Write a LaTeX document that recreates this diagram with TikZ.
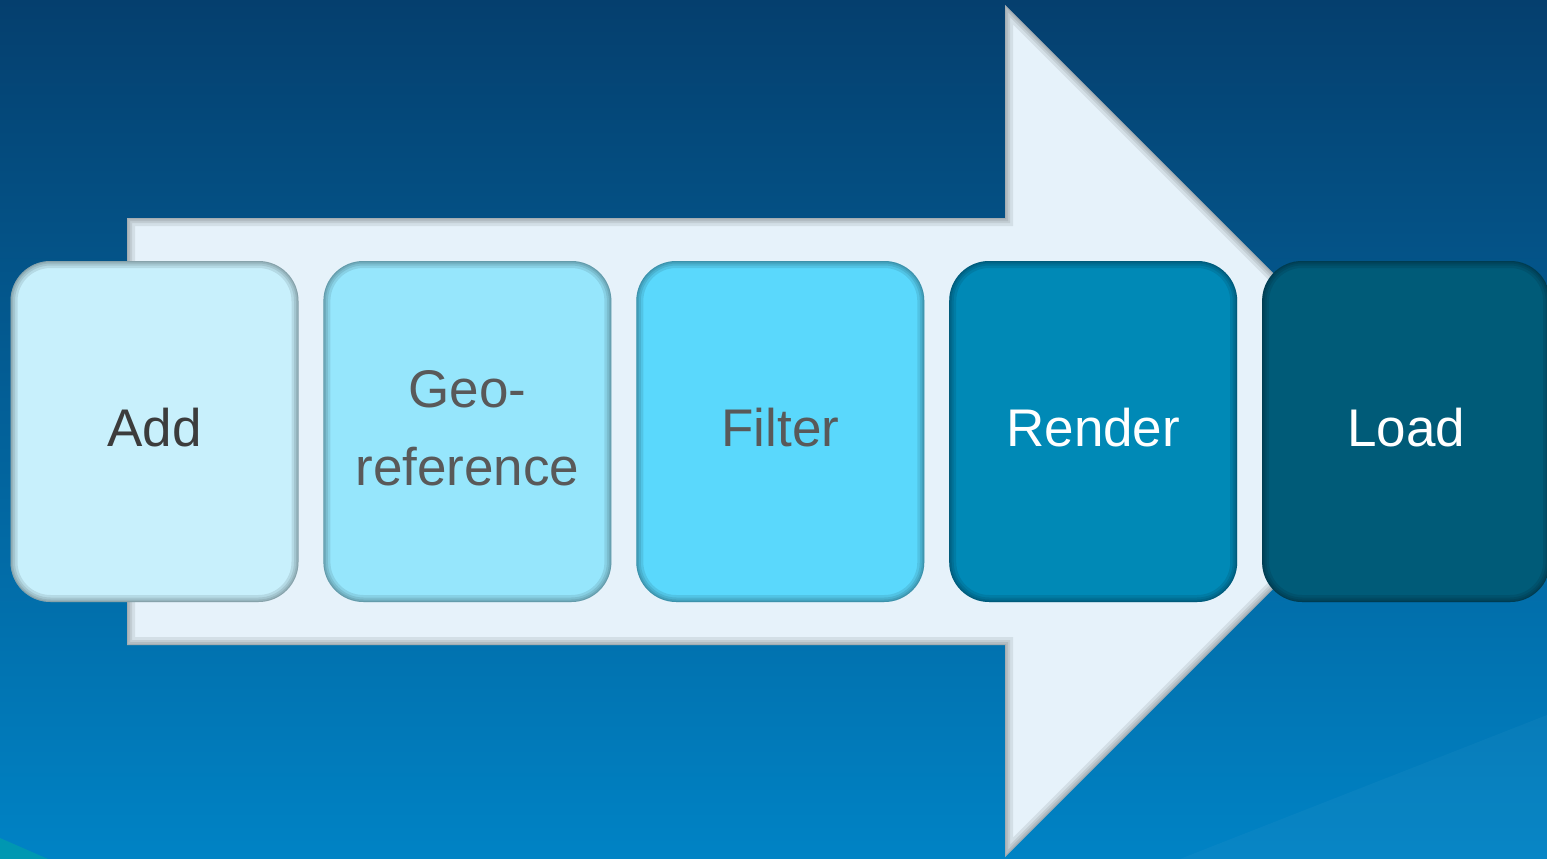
\documentclass[tikz,border=0pt]{standalone}
\usepackage{fontspec}
\setmainfont{Liberation Sans}
\usepackage{tikz}
\usetikzlibrary{positioning}
\definecolor{BgTop}{HTML}{053F6E}
\definecolor{BgBot}{HTML}{0083C5}
\definecolor{ArrowFill}{HTML}{E6F2FA}
\definecolor{AddFill}{HTML}{C8F0FC}
\definecolor{GeoFill}{HTML}{96E6FC}
\definecolor{FilterFill}{HTML}{5AD8FC}
\definecolor{RenderFill}{HTML}{0089B6}
\definecolor{LoadFill}{HTML}{005B78}
\definecolor{DarkText}{HTML}{3C3C3C}
\definecolor{GreyText}{HTML}{595959}

\begin{document}
\begin{tikzpicture}[x=1pt,y=-1pt,node distance=24.5pt]
  \tikzstyle{stagebox}=[rounded corners=40pt,minimum width=288pt,
    minimum height=341pt,inner sep=0pt,align=center,text depth=8pt,
    font=\fontsize{53}{78}\selectfont,
    path picture={\foreach \w in {14,9,5,2}
      \draw[black,opacity=0.09,line width=\w pt,rounded corners=40pt]
        (path picture bounding box.south west) rectangle
        (path picture bounding box.north east);}]
  \useasboundingbox (0,0) rectangle (1547,859);
  % background
  \shade[top color=BgTop,bottom color=BgBot] (0,0) rectangle (1547,859);
  \fill[white,opacity=0.03] (1180,859) -- (1547,715) -- (1547,859) -- cycle;
  \fill[teal!70!cyan,opacity=0.6] (0,838) -- (48,859) -- (0,859) -- cycle;
  % big arrow with inner shadow
  \def\arrowpath{(127,218) -- (1005,218) -- (1005,5) -- (1431,431)
    -- (1005,857) -- (1005,645) -- (127,645) -- cycle}
  \fill[ArrowFill] \arrowpath;
  \begin{scope}
    \clip \arrowpath;
    \foreach \w in {16,10,6,2}
      \draw[black,opacity=0.08,line width=\w pt] \arrowpath;
  \end{scope}
  % stages
  \node[stagebox,fill=AddFill,text=DarkText] (add) at (154.5,431.5) {Add};
  \node[stagebox,fill=GeoFill,text=GreyText,right=of add] (georef) {Geo-\\reference};
  \node[stagebox,fill=FilterFill,text=GreyText,right=of georef] (filter) {Filter};
  \node[stagebox,fill=RenderFill,text=white,right=of filter] (render) {Render};
  \node[stagebox,fill=LoadFill,text=white,right=of render] (load) {Load};
\end{tikzpicture}
\end{document}
